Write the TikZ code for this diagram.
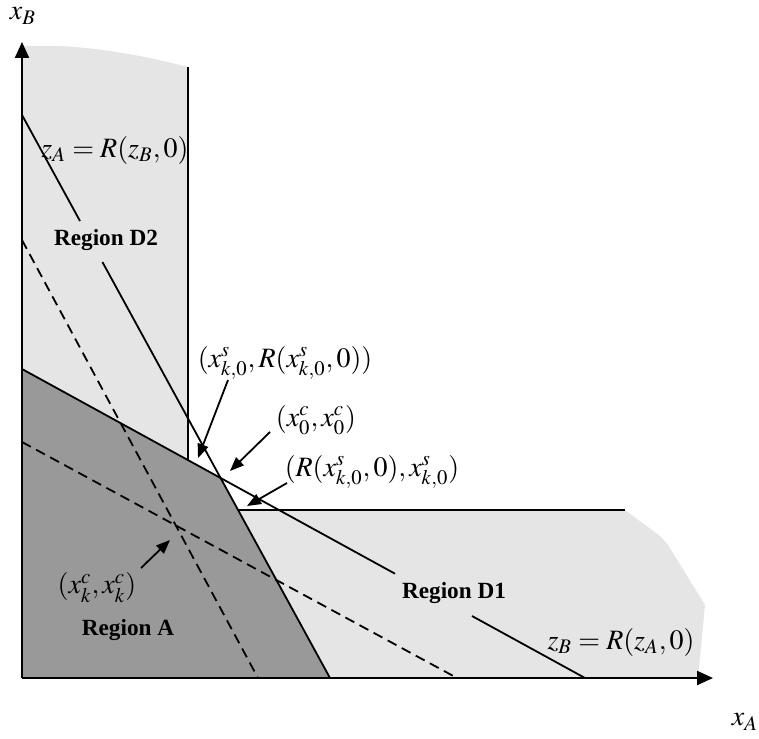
\documentclass[tikz,border=0pt]{standalone}
\usepackage{amsmath}
\usepackage{mathptmx}
\usepackage[no-math]{fontspec}
\setmainfont{Liberation Serif}
\usetikzlibrary{arrows.meta}

\begin{document}
\begin{tikzpicture}[x=0.5pt,y=-0.5pt,
    reta/.style={line width=0.9pt},
    eixo/.style={line width=1.1pt,-{Triangle[length=8pt,width=7pt]}},
    seta/.style={line width=0.9pt,-{Triangle[length=7pt,width=5.5pt]}},
    tracejada/.style={line width=0.9pt,dash pattern=on 5pt off 3pt},
    regiao/.style={font=\fontsize{11.6}{13}\selectfont\bfseries},
    rotulo/.style={font=\fontsize{14}{16}\selectfont, inner sep=0pt}]
        \useasboundingbox (0,0) rectangle (759,738);

        % pontos
        \coordinate (O) at (22,678);
        \coordinate (kink) at (intersection of 22,115--330,678 and 22,369--585,678);

        % regioes
        \fill[gray!20] (O) -- (22,46) -- (62,46)
            .. controls (120,50) and (160,60) .. (188,67)
            -- (188,460) -- (kink) -- (238,510) -- (625,510)
            -- (660,536) -- (668,545) -- (705,605) -- (698,678) -- cycle;
        \fill[gray!80] (O) -- (22,369) -- (kink) -- (330,678) -- cycle;
        \draw[reta] (188,67) -- (188,460);
        \draw[reta] (238,510) -- (625,510);

        % retas
        \draw[reta] (22,115) -- (80,221);
        \draw[reta] (102.4,262) -- (330,678);
        \draw[reta] (22,369) -- (395,573.7);
        \draw[reta] (472,616) -- (585,678);
        \draw[tracejada] (22,240) -- (258,678);
        \draw[tracejada] (22,442) -- (457,678);

        % eixos
        \draw[eixo] (O) -- (713,678);
        \draw[eixo] (O) -- (22,42);
        \node[rotulo] (xB) at (23,16) {\(x_B\)};
        \node[rotulo] (xA) at (745,722) {\(x_A\)};

        % rotulos
        \foreach \n/\p/\t in {rD2/{106,240}/Region D2, rA/{128,630}/Region A,
            rD1/{454,593}/Region D1}
        \node[regiao] (\n) at (\p) {\t};
        \node[rotulo] (zA) at (115,150) {\(z_A = R(z_B,0)\)};
        \node[rotulo] (zB) at (621,642) {\(z_B = R(z_A,0)\)};
        \node[rotulo] (ps1) at (285,363) {\((x^s_{k,0}, R(x^s_{k,0},0))\)};
        \node[rotulo] (p0) at (316,420) {\((x^c_0, x^c_0)\)};
        \node[rotulo] (ps2) at (372,472) {\((R(x^s_{k,0},0), x^s_{k,0})\)};
        \node[rotulo] (pk) at (97,588) {\((x^c_k, x^c_k)\)};

        % setas
        \coordinate (t1) at (228,380); \coordinate (h1) at (198,458);
        \coordinate (t2) at (270,432); \coordinate (h2) at (230,471);
        \coordinate (t3) at (287,483); \coordinate (h3) at (247,506);
        \coordinate (t4) at (141,568); \coordinate (h4) at (170,540);
        \foreach \i in {1,...,4}
        \draw[seta] (t\i) -- (h\i);
    \end{tikzpicture}
\end{document}
